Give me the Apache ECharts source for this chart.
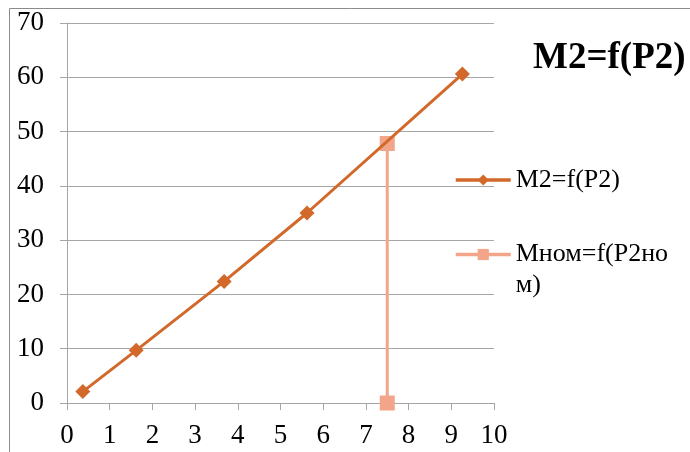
<!DOCTYPE html>
<html>
<head>
<meta charset="utf-8">
<script src="https://cdn.jsdelivr.net/npm/echarts@6/dist/echarts.min.js"></script>
<style>
  html, body { margin: 0; padding: 0; background: #fff; }
  #chart { width: 690px; height: 452px; }
</style>
</head>
<body>
<div id="chart"></div>
<script>
// M2 as a function of P2, plus the nominal operating point
const seriesMain = 'M2=f(P2)';
const seriesNom = 'Мном=f(P2ном)';
const p2 = [0.37, 1.62, 3.68, 5.62, 9.26];
const m2 = [2.1, 9.7, 22.4, 35.0, 60.6];
const p2Nom = [7.5, 7.5];
const mNom = [47.8, 0];
const xTicks = [0, 10, 1];   // min, max, step
const yTicks = [0, 70, 10];

const font = '"Liberation Serif", "Times New Roman", serif';
const colMain = '#D2692A';
const colNom = '#F2A588';

const chart = echarts.init(document.getElementById('chart'));
chart.setOption({
  animation: false,
  backgroundColor: '#fff',
  textStyle: { fontFamily: font },
  title: {
    text: 'M2=f(P2)',
    left: 528, top: 35,
    textStyle: { fontFamily: font, fontWeight: 'bold', fontSize: 37, color: '#000' }
  },
  graphic: [{
    type: 'polyline',
    shape: { points: [[9.5, 460], [9.5, 8.5], [700, 8.5]] },
    style: { stroke: '#8c8c8c', lineWidth: 1, fill: null },
    silent: true
  }],
  legend: [{
    data: [seriesMain],
    left: 449, top: 162,
    itemWidth: 55, itemHeight: 14, itemGap: 5,
    lineStyle: { width: 3.5 },
    textStyle: { fontFamily: font, fontSize: 26, color: '#000' }
  }, {
    data: [seriesNom],
    left: 449, top: 203,
    itemWidth: 55, itemHeight: 14, itemGap: 5,
    lineStyle: { width: 3.5 },
    // leading empty line keeps the icon level with the first text line
    formatter: () => '\nМном=f(P2но\nм)',
    textStyle: { fontFamily: font, fontSize: 26, color: '#000', lineHeight: 31 }
  }],
  grid: { left: 67, right: 196, top: 23, bottom: 49, containLabel: false },
  xAxis: {
    type: 'value', min: xTicks[0], max: xTicks[1], interval: xTicks[2],
    axisLine: { show: true, lineStyle: { color: '#a6a6a6', width: 1 } },
    axisTick: { show: true, length: 7, lineStyle: { color: '#a6a6a6' } },
    splitLine: { show: false },
    axisLabel: { fontFamily: font, fontSize: 27, color: '#000', margin: 19 }
  },
  yAxis: {
    type: 'value', min: yTicks[0], max: yTicks[1], interval: yTicks[2],
    axisLine: { show: true, lineStyle: { color: '#a6a6a6', width: 1 } },
    axisTick: { show: true, length: 7, lineStyle: { color: '#a6a6a6' } },
    splitLine: { show: true, lineStyle: { color: '#a6a6a6', width: 1 } },
    axisLabel: { fontFamily: font, fontSize: 27, color: '#000', margin: 23 }
  },
  series: [{
    name: seriesMain,
    type: 'line',
    data: p2.map((x, i) => [x, m2[i]]),
    symbol: 'diamond', symbolSize: 15,
    lineStyle: { color: colMain, width: 3 },
    itemStyle: { color: colMain },
    z: 3
  }, {
    name: seriesNom,
    type: 'line',
    data: p2Nom.map((x, i) => [x, mNom[i]]),
    symbol: 'rect', symbolSize: 15,
    lineStyle: { color: colNom, width: 3 },
    itemStyle: { color: colNom },
    z: 2
  }]
});
</script>
</body>
</html>
